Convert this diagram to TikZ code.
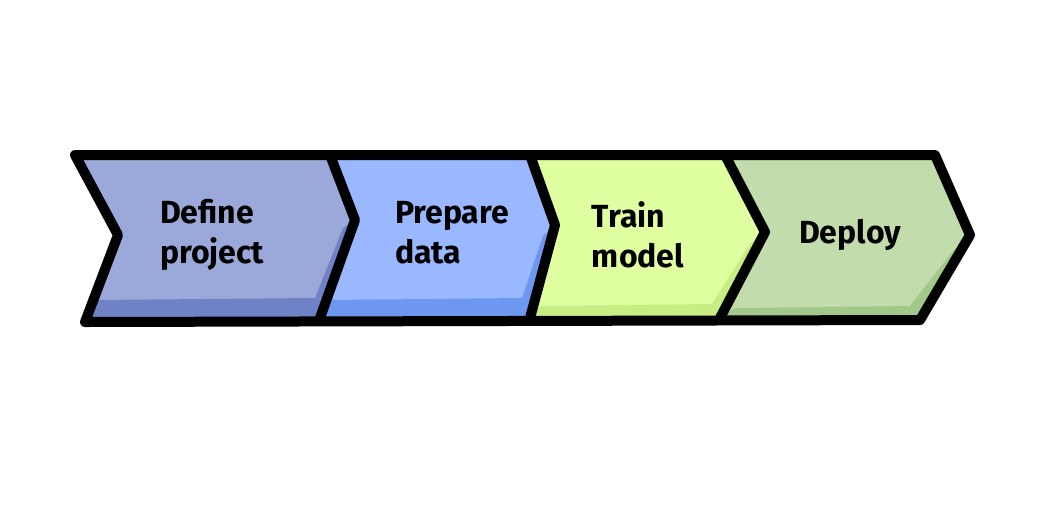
\documentclass[tikz,border=0pt]{standalone}
\usepackage{fontspec}
\setmainfont{Fira Sans}
\begin{document}
\begin{tikzpicture}[x=0.75pt,y=-0.75pt,
  outline/.style={draw=black,line width=7.5pt,line join=round,line cap=round},
  lbl/.style={font=\bfseries\fontsize{24}{30}\selectfont,align=left,text=black}]
\useasboundingbox (0,0) rectangle (1041,512);
\definecolor{c1}{HTML}{9BA9DA}\definecolor{d1}{HTML}{6F82C6}
\definecolor{c2}{HTML}{99B8FF}\definecolor{d2}{HTML}{6E97F2}
\definecolor{c3}{HTML}{DFFFA0}\definecolor{d3}{HTML}{C6EE82}
\definecolor{c4}{HTML}{C2DCAB}\definecolor{d4}{HTML}{A3C98A}
% fills
\fill[c1] (75,155)--(330,155)--(355,220)--(320,318)--(85,322)--(118,235)--cycle;
\fill[d1] (95,300)--(315,298)--(343,228)--(355,220)--(320,318)--(85,322)--cycle;
\fill[c2] (330,155)--(530,155)--(555,225)--(530,318)--(320,318)--(355,220)--cycle;
\fill[d2] (330,300)--(522,298)--(543,236)--(555,225)--(530,318)--(320,318)--cycle;
\fill[c3] (530,155)--(725,155)--(765,232)--(720,318)--(530,318)--(555,225)--cycle;
\fill[d3] (540,306)--(712,304)--(750,244)--(765,232)--(720,318)--(530,318)--cycle;
\fill[c4] (725,155)--(935,155)--(970,235)--(920,320)--(720,318)--(765,232)--cycle;
\fill[d4] (735,308)--(910,306)--(952,252)--(970,235)--(920,320)--(720,318)--cycle;
% outlines
\draw[outline] (75,155)--(935,155)--(970,235)--(920,320)--(85,322)--(118,235)--cycle;
\draw[outline] (330,155)--(355,220)--(320,318);
\draw[outline] (530,155)--(555,225)--(530,318);
\draw[outline] (725,155)--(765,232)--(720,318);
% labels
\node[lbl] (t1) at (212,235) {Define\\project};
\node[lbl] (t2) at (452,233) {Prepare\\data};
\node[lbl] (t3) at (638,235) {Train\\model};
\node[lbl] (t4) at (850,235) {Deploy};
\end{tikzpicture}
\end{document}
